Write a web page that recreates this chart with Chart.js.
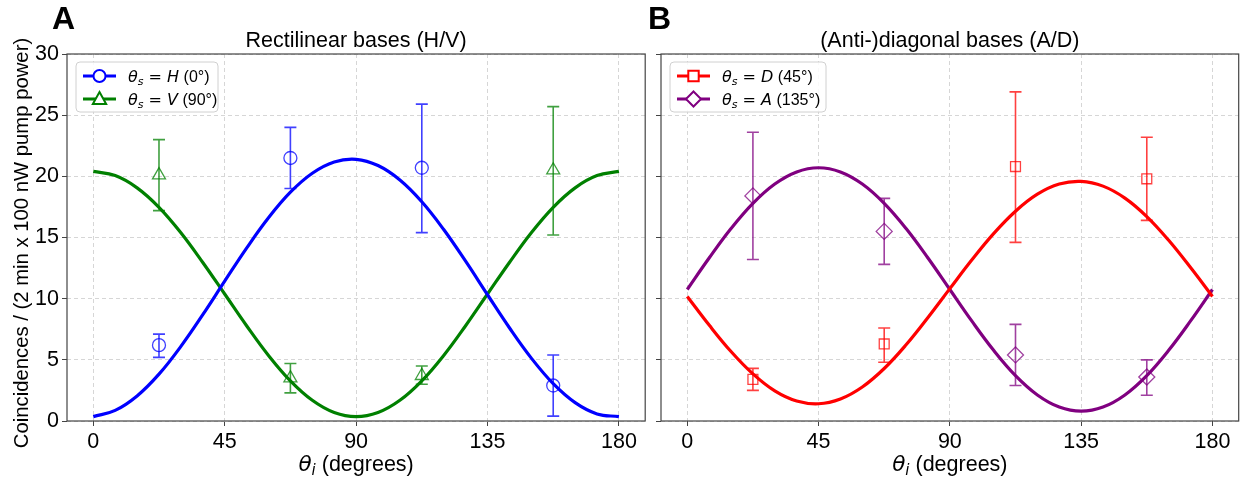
<!DOCTYPE html>
<html>
<head>
<meta charset="utf-8">
<script src="https://cdn.jsdelivr.net/npm/chart.js@4.4.1/dist/chart.umd.min.js"></script>
<style>
  body { margin: 0; background: #fff; }
  #wrap { position: relative; width: 1245px; height: 479px; overflow: hidden; }
  canvas { position: absolute; top: 0; }
  #chartA { left: 0; }
  #chartB { left: 600px; }
</style>
</head>
<body>
<div id="wrap">
  <canvas id="chartA" width="654" height="479"></canvas>
  <canvas id="chartB" width="648" height="479"></canvas>
</div>
<script>
// angles (degrees) of the fitted curves and of the measured points
const fitAngles = [0, 7.5, 15, 22.5, 30, 37.5, 45, 52.5, 60, 67.5, 75, 82.5, 90,
    97.5, 105, 112.5, 120, 127.5, 135, 142.5, 150, 157.5, 165, 172.5, 180];
const pointAngles = [22.5, 67.5, 112.5, 157.5];
const xTicks = [0, 45, 90, 135, 180];
const yTicks = [0, 5, 10, 15, 20, 25, 30];

// panel A: rectilinear bases
const hFit = [0.36, 0.87, 2.05, 3.83, 6.1, 8.69, 11.43, 14.13, 16.61, 18.7, 20.25, 21.17, 21.39,
    20.88, 19.7, 17.92, 15.65, 13.06, 10.32, 7.62, 5.14, 3.05, 1.5, 0.58, 0.36];
const vFit = [20.4, 20.06, 19.06, 17.47, 15.39, 12.96, 10.38, 7.79, 5.36, 3.28, 1.69, 0.69, 0.35,
    0.69, 1.69, 3.28, 5.36, 7.79, 10.38, 12.96, 15.39, 17.47, 19.06, 20.06, 20.4];
const hPoints = [6.2, 21.5, 20.7, 2.9];
const hLow = [5.2, 19.0, 15.4, 0.4];
const hHigh = [7.1, 24.0, 25.9, 5.4];
const vPoints = [20.1, 3.5, 3.7, 20.5];
const vLow = [17.2, 2.3, 3.0, 15.2];
const vHigh = [23.0, 4.7, 4.5, 25.7];

// panel B: (anti-)diagonal bases
const dFit = [10.18, 7.84, 5.68, 3.85, 2.46, 1.63, 1.41, 1.8, 2.78, 4.29, 6.23, 8.46, 10.82,
    13.16, 15.32, 17.15, 18.54, 19.37, 19.59, 19.2, 18.22, 16.71, 14.77, 12.54, 10.18];
const aFit = [10.75, 13.32, 15.73, 17.79, 19.37, 20.36, 20.7, 20.36, 19.37, 17.79, 15.73, 13.32, 10.75,
    8.18, 5.78, 3.71, 2.13, 1.14, 0.8, 1.14, 2.13, 3.71, 5.78, 8.18, 10.75];
const dPoints = [3.4, 6.3, 20.8, 19.8];
const dLow = [2.5, 4.8, 14.6, 16.4];
const dHigh = [4.3, 7.6, 26.9, 23.2];
const aPoints = [18.4, 15.5, 5.4, 3.6];
const aLow = [13.2, 12.8, 2.9, 2.1];
const aHigh = [23.6, 18.2, 7.9, 5.0];

const SANS = "'Liberation Sans', Arial, sans-serif";
const MATH = "'DejaVu Sans', sans-serif";

function pts(xs, ys) {
    return xs.map((x, i) => ({ x: x, y: ys[i] }));
}

function fade(hex, a) {
    const n = parseInt(hex.slice(1), 16);
    return `rgba(${(n >> 16) & 255},${(n >> 8) & 255},${n & 255},${a})`;
}

function fitSet(ys, color) {
    return {
        type: 'line', data: pts(fitAngles, ys), borderColor: color, borderWidth: 3.2,
        pointRadius: 0, tension: 0.4, fill: false, order: 1
    };
}

function pointSet(ys, low, high, color, style, radius) {
    return {
        type: 'scatter', data: pts(pointAngles, ys), showLine: false,
        pointStyle: style, pointRadius: radius, pointHoverRadius: radius,
        borderColor: fade(color, 0.75), backgroundColor: 'rgba(0,0,0,0)',
        pointBorderWidth: 1.3, errLow: low, errHigh: high, order: 2
    };
}

// error bars drawn from the dataset's own low/high arrays
const errorBars = {
    id: 'errorBars',
    beforeDatasetsDraw(chart) {
        const ctx = chart.ctx;
        const xs = chart.scales.x, ys = chart.scales.y;
        chart.data.datasets.forEach(ds => {
            if (!ds.errLow) return;
            ctx.save();
            ctx.strokeStyle = ds.borderColor;
            ctx.lineWidth = 1.6;
            ds.data.forEach((p, i) => {
                const px = xs.getPixelForValue(p.x);
                const y1 = ys.getPixelForValue(ds.errLow[i]);
                const y2 = ys.getPixelForValue(ds.errHigh[i]);
                ctx.beginPath();
                ctx.moveTo(px, y1); ctx.lineTo(px, y2);
                ctx.moveTo(px - 6, y1); ctx.lineTo(px + 6, y1);
                ctx.moveTo(px - 6, y2); ctx.lineTo(px + 6, y2);
                ctx.stroke();
            });
            ctx.restore();
        });
    }
};

function richText(ctx, segs, x, y) {
    let cx = x;
    segs.forEach(s => {
        ctx.font = s.font;
        ctx.fillText(s.t, cx, y + (s.dy || 0));
        cx += ctx.measureText(s.t).width;
    });
    return cx - x;
}

function drawMarker(ctx, style, x, y, r) {
    ctx.beginPath();
    if (style === 'circle') {
        ctx.arc(x, y, r, 0, Math.PI * 2);
    } else if (style === 'triangle') {
        ctx.moveTo(x, y - r); ctx.lineTo(x + r * 0.95, y + r * 0.7); ctx.lineTo(x - r * 0.95, y + r * 0.7); ctx.closePath();
    } else if (style === 'rect') {
        ctx.rect(x - r * 0.8, y - r * 0.8, r * 1.6, r * 1.6);
    } else {
        ctx.moveTo(x, y - r); ctx.lineTo(x + r, y); ctx.lineTo(x, y + r); ctx.lineTo(x - r, y); ctx.closePath();
    }
    ctx.fillStyle = '#fff';
    ctx.fill();
    ctx.stroke();
}

// frame, titles, labels and legend
const decor = {
    id: 'decor',
    afterDraw(chart, args, opts) {
        const ctx = chart.ctx;
        const a = chart.chartArea;
        ctx.save();
        ctx.strokeStyle = '#444';
        ctx.lineWidth = 1.2;
        ctx.strokeRect(a.left, a.top, a.right - a.left, a.bottom - a.top);

        ctx.fillStyle = '#000';
        ctx.textBaseline = 'alphabetic';
        ctx.font = `bold 32px ${SANS}`;
        ctx.fillText(opts.letter, opts.letterX, 29);

        ctx.font = `21.5px ${SANS}`;
        ctx.textAlign = 'center';
        ctx.fillText(opts.title, (a.left + a.right) / 2, 47);

        // x label: theta_i (degrees)
        ctx.textAlign = 'left';
        const xl = [
            { t: 'θ', font: `italic 21.5px ${MATH}` },
            { t: 'i', font: `italic 15px ${MATH}`, dy: 4 },
            { t: ' (degrees)', font: `21.5px ${SANS}` }
        ];
        let w = 0;
        xl.forEach(s => { ctx.font = s.font; w += ctx.measureText(s.t).width; });
        richText(ctx, xl, (a.left + a.right) / 2 - w / 2, 471);

        if (opts.yLabel) {
            ctx.save();
            ctx.translate(28, 243);
            ctx.rotate(-Math.PI / 2);
            ctx.textAlign = 'center';
            ctx.font = `20.3px ${SANS}`;
            ctx.fillText(opts.yLabel, 0, 0);
            ctx.restore();
        }

        // legend
        const lx = a.left + 9, ly = a.top + 8;
        ctx.beginPath();
        ctx.roundRect(lx, ly, opts.legendW, 50, 4);
        ctx.fillStyle = 'rgba(255,255,255,0.85)';
        ctx.fill();
        ctx.strokeStyle = '#d0d0d0';
        ctx.lineWidth = 1;
        ctx.stroke();
        opts.legend.forEach((e, i) => {
            const cy = ly + 14 + i * 23;
            ctx.strokeStyle = e.color;
            ctx.lineWidth = 3;
            ctx.beginPath();
            ctx.moveTo(lx + 7, cy); ctx.lineTo(lx + 40, cy);
            ctx.stroke();
            ctx.lineWidth = 2;
            drawMarker(ctx, e.style, lx + 23.5, cy, e.r);
            ctx.fillStyle = '#000';
            ctx.textAlign = 'left';
            richText(ctx, [
                { t: 'θ', font: `italic 16px ${MATH}` },
                { t: 's', font: `italic 11px ${MATH}`, dy: 3 },
                { t: ' = ', font: `16px ${MATH}` },
                { t: e.basis, font: `italic 16px ${MATH}` },
                { t: ' ' + e.angle, font: `16px ${SANS}` }
            ], lx + 52, cy + 6);
        });
        ctx.restore();
    }
};

function makeChart(id, datasets, yWidth, yLabels, decorOpts) {
    return new Chart(document.getElementById(id), {
        type: 'scatter',
        data: { datasets: datasets },
        options: {
            responsive: false,
            animation: false,
            layout: { padding: { top: 54, right: 0, left: 0, bottom: 0 } },
            plugins: { legend: { display: false }, tooltip: { enabled: false }, decor: decorOpts },
            scales: {
                x: {
                    type: 'linear', min: -9, max: 189,
                    afterBuildTicks: s => { s.ticks = xTicks.map(v => ({ value: v })); },
                    afterFit: s => { s.height = 58; },
                    ticks: { font: { family: SANS, size: 21.5 }, color: '#000', padding: 3, maxRotation: 0 },
                    grid: { color: '#d6d6d6', tickColor: '#444', tickLength: 5, lineWidth: 1 },
                    border: { display: false, dash: [4, 3] }
                },
                y: {
                    type: 'linear', min: 0, max: 30,
                    afterBuildTicks: s => { s.ticks = yTicks.map(v => ({ value: v })); },
                    afterFit: s => { s.width = yWidth; },
                    ticks: {
                        font: { family: SANS, size: 21.5 }, color: '#000', padding: 3,
                        callback: v => yLabels ? v : ' '
                    },
                    grid: { color: '#d6d6d6', tickColor: '#444', tickLength: 5, lineWidth: 1 },
                    border: { display: false, dash: [4, 3] }
                }
            }
        },
        plugins: [errorBars, decor]
    });
}

makeChart('chartA', [
    fitSet(hFit, '#0000ff'),
    fitSet(vFit, '#008000'),
    pointSet(hPoints, hLow, hHigh, '#0000ff', 'circle', 6.5),
    pointSet(vPoints, vLow, vHigh, '#008000', 'triangle', 7.5)
], 67, true, {
    letter: 'A', letterX: 52, title: 'Rectilinear bases (H/V)',
    yLabel: 'Coincidences / (2 min x 100 nW pump power)', legendW: 142,
    legend: [
        { color: '#0000ff', style: 'circle', r: 6, basis: 'H', angle: '(0°)' },
        { color: '#008000', style: 'triangle', r: 7, basis: 'V', angle: '(90°)' }
    ]
});

makeChart('chartB', [
    fitSet(dFit, '#ff0000'),
    fitSet(aFit, '#800080'),
    pointSet(dPoints, dLow, dHigh, '#ff0000', 'rect', 7),
    pointSet(aPoints, aLow, aHigh, '#800080', 'rectRot', 8)
], 61, false, {
    letter: 'B', letterX: 48, title: '(Anti-)diagonal bases (A/D)',
    yLabel: null, legendW: 156,
    legend: [
        { color: '#ff0000', style: 'rect', r: 6.5, basis: 'D', angle: '(45°)' },
        { color: '#800080', style: 'rectRot', r: 7.5, basis: 'A', angle: '(135°)' }
    ]
});
</script>
</body>
</html>
